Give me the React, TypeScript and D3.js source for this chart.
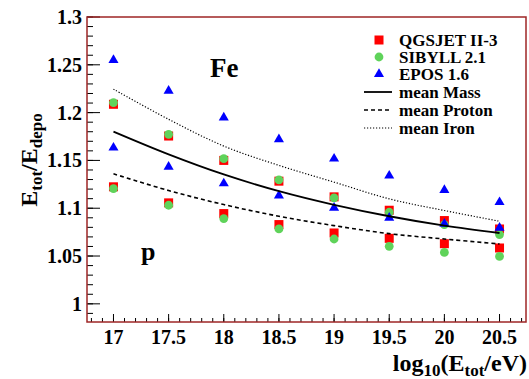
import React from "react";
import * as d3 from "d3";

const energies = [17, 17.5, 18, 18.5, 19, 19.5, 20, 20.5];
const qgsIron = [1.2087, 1.1755, 1.15, 1.1283, 1.1119, 1.0979, 1.0871, 1.0783];
const qgsProton = [1.1224, 1.1056, 1.0944, 1.0829, 1.0741, 1.0685, 1.0629, 1.0584];
const sibIron = [1.2105, 1.1773, 1.1518, 1.1297, 1.1108, 1.0958, 1.0829, 1.0724];
const sibProton = [1.1206, 1.1031, 1.0892, 1.0783, 1.0678, 1.0601, 1.0538, 1.0496];
const eposIron = [1.255, 1.2227, 1.1948, 1.172, 1.1518, 1.134, 1.1189, 1.1063];
const eposProton = [1.1633, 1.1434, 1.1259, 1.1133, 1.1004, 1.0899, 1.0836, 1.0794];
const meanMass = [1.1801, 1.1563, 1.1353, 1.1178, 1.1035, 1.0916, 1.0818, 1.0741];
const meanProton = [1.136, 1.1185, 1.1038, 1.0916, 1.0818, 1.0734, 1.0678, 1.0626];
const meanIron = [1.2245, 1.193, 1.165, 1.1448, 1.1273, 1.1098, 1.0976, 1.0864];

const xTicks = [17, 17.5, 18, 18.5, 19, 19.5, 20, 20.5];
const xTickLabels = ["17", "17.5", "18", "18.5", "19", "19.5", "20", "20.5"];
const yTicks = [1, 1.05, 1.1, 1.15, 1.2, 1.25, 1.3];
const yTickLabels = ["1", "1.05", "1.1", "1.15", "1.2", "1.25", "1.3"];
const legendLabels = ["QGSJET II-3", "SIBYLL 2.1", "EPOS 1.6", "mean Mass", "mean Proton", "mean Iron"];

const FONT = "'Liberation Serif', 'Times New Roman', serif";
const RED = "#ff0000";
const GREEN = "#5fd35a";
const BLUE = "#0000ff";
const FRAME = "#9e2626";

export default function App() {
  const L = 87, R = 526, T = 17, B = 322;
  const x = d3.scaleLinear().domain([16.76, 20.74]).range([L, R]);
  const y = d3.scaleLinear().domain([0.981, 1.3]).range([B, T]);

  const line = d3
    .line<number>()
    .x((_, i) => x(energies[i]))
    .y((d) => y(d))
    .curve(d3.curveCatmullRom);

  const tri = d3.symbol().type(d3.symbolTriangle).size(44)() as string;

  const xMinor = d3.range(16.8, 20.75, 0.1).map((v) => Math.round(v * 10) / 10);
  const yMinor = d3.range(0.99, 1.3001, 0.01).map((v) => Math.round(v * 100) / 100);

  const sq = 9;
  const legX = 379;
  const legY = [40, 57, 74, 92, 110, 128];

  return (
    <svg
      width={529}
      height={379}
      style={{ position: "absolute", left: 0, top: 0, background: "#fff" }}
      fontFamily={FONT}
      fontWeight="bold"
    >
      <rect x={0} y={0} width={529} height={379} fill="#fff" />

      {[qgsIron, qgsProton].map((s, k) =>
        s.map((v, i) => (
          <rect key={`q${k}-${i}`} x={x(energies[i]) - sq / 2} y={y(v) - sq / 2} width={sq} height={sq} fill={RED} />
        ))
      )}
      {[sibIron, sibProton].map((s, k) =>
        s.map((v, i) => <circle key={`s${k}-${i}`} cx={x(energies[i])} cy={y(v)} r={4.4} fill={GREEN} />)
      )}
      {[eposIron, eposProton].map((s, k) =>
        s.map((v, i) => (
          <path key={`e${k}-${i}`} d={tri} transform={`translate(${x(energies[i])},${y(v)})`} fill={BLUE} />
        ))
      )}

      <path d={line(meanMass) as string} fill="none" stroke="#000" strokeWidth={1.8} />
      <path d={line(meanProton) as string} fill="none" stroke="#000" strokeWidth={1.6} strokeDasharray="4,3" />
      <path d={line(meanIron) as string} fill="none" stroke="#000" strokeWidth={1.2} strokeDasharray="1.2,1.8" />

      {yTicks.map((t) => (
        <line key={`yt${t}`} x1={L} x2={L + 13} y1={y(t)} y2={y(t)} stroke="#000" strokeWidth={1} />
      ))}
      {yMinor.map((t) => (
        <line key={`ym${t}`} x1={L} x2={L + 6} y1={y(t)} y2={y(t)} stroke="#000" strokeWidth={1} />
      ))}
      {xTicks.map((t) => (
        <line key={`xt${t}`} x1={x(t)} x2={x(t)} y1={B} y2={B - 8} stroke="#000" strokeWidth={1} />
      ))}
      {xMinor.map((t) => (
        <line key={`xm${t}`} x1={x(t)} x2={x(t)} y1={B} y2={B - 4} stroke="#000" strokeWidth={1} />
      ))}

      <rect x={L} y={T} width={R - L} height={B - T} fill="none" stroke={FRAME} strokeWidth={1.5} />

      {yTicks.map((t, i) => (
        <text key={`yl${t}`} x={82} y={y(t)} dy="0.35em" textAnchor="end" fontSize={20}>
          {yTickLabels[i]}
        </text>
      ))}
      {xTicks.map((t, i) => (
        <text key={`xl${t}`} x={x(t)} y={344} textAnchor="middle" fontSize={20}>
          {xTickLabels[i]}
        </text>
      ))}

      <text x={527} y={371} textAnchor="end" fontSize={24}>
        log
        <tspan fontSize={17} dy={5}>10</tspan>
        <tspan dy={-5}>(E</tspan>
        <tspan fontSize={17} dy={5}>tot</tspan>
        <tspan dy={-5}>/eV)</tspan>
      </text>
      <text transform="translate(37,160) rotate(-90)" textAnchor="middle" fontSize={24}>
        E<tspan fontSize={17} dy={5}>tot</tspan>
        <tspan dy={-5}>/E</tspan>
        <tspan fontSize={17} dy={5}>depo</tspan>
      </text>

      <text x={210} y={77} fontSize={27}>Fe</text>
      <text x={141} y={260} fontSize={26}>p</text>

      <rect x={legX - sq / 2} y={legY[0] - sq / 2} width={sq} height={sq} fill={RED} />
      <circle cx={legX} cy={legY[1]} r={4.4} fill={GREEN} />
      <path d={tri} transform={`translate(${legX},${legY[2]})`} fill={BLUE} />
      <line x1={364} x2={392} y1={legY[3]} y2={legY[3]} stroke="#000" strokeWidth={1.8} />
      <line x1={364} x2={392} y1={legY[4]} y2={legY[4]} stroke="#000" strokeWidth={1.6} strokeDasharray="4,3" />
      <line x1={364} x2={392} y1={legY[5]} y2={legY[5]} stroke="#000" strokeWidth={1.2} strokeDasharray="1.2,1.8" />
      {legendLabels.map((s, i) => (
        <text key={s} x={399} y={legY[i]} dy="0.35em" fontSize={17}>
          {s}
        </text>
      ))}
    </svg>
  );
}
